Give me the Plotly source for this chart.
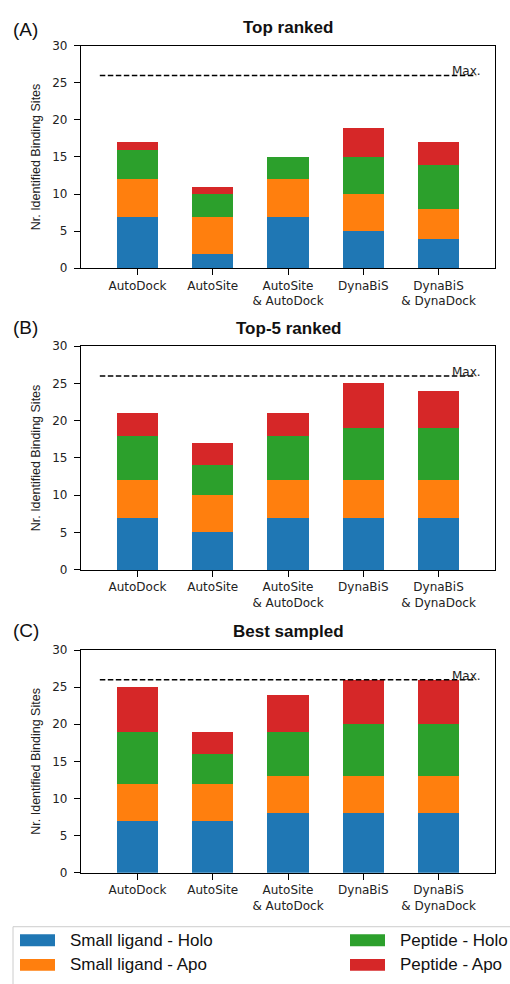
import plotly.graph_objects as go

# ---- data -------------------------------------------------------------
methods = ["AutoDock", "AutoSite", "AutoSite<br>& AutoDock", "DynaBiS", "DynaBiS<br>& DynaDock"]
series_names = ["Small ligand - Holo", "Small ligand - Apo", "Peptide - Holo", "Peptide - Apo"]
series_colors = ["#1f77b4", "#ff7f0e", "#2ca02c", "#d62728"]

panel_tags = ["(A)", "(B)", "(C)"]
panel_titles = ["Top ranked", "Top-5 ranked", "Best sampled"]

# counts per panel, one list per series (stack order bottom -> top)
top_ranked = [
    [7, 2, 7, 5, 4],   # Small ligand - Holo
    [5, 5, 5, 5, 4],   # Small ligand - Apo
    [4, 3, 3, 5, 6],   # Peptide - Holo
    [1, 1, 0, 4, 3],   # Peptide - Apo
]
top5_ranked = [
    [7, 5, 7, 7, 7],
    [5, 5, 5, 5, 5],
    [6, 4, 6, 7, 7],
    [3, 3, 3, 6, 5],
]
best_sampled = [
    [7, 7, 8, 8, 8],
    [5, 5, 5, 5, 5],
    [7, 4, 6, 7, 7],
    [6, 3, 5, 6, 6],
]
panels = [top_ranked, top5_ranked, best_sampled]

max_sites = 26
y_ticks = [0, 5, 10, 15, 20, 25, 30]

# ---- layout geometry (pixels) ----------------------------------------
W, H = 510, 984
plot_left, plot_right = 81, 495
panel_px = [(39.3, 265.0), (344.0, 571.0), (652.3, 878.3)]   # (top, bottom)
tag_y = [23, 325, 633]
title_y = [21, 326, 634]

def px_x(p):
    return p / W

def px_y(p):
    return 1 - p / H

fig = go.Figure()
xpos = list(range(len(methods)))

for i, data in enumerate(panels):
    ax = "" if i == 0 else str(i + 1)
    for name, color, vals in zip(series_names, series_colors, data):
        fig.add_trace(go.Bar(
            x=xpos, y=vals, name=name,
            marker=dict(color=color, line=dict(width=0)),
            width=0.55, showlegend=False,
            xaxis="x" + ax, yaxis="y" + ax,
        ))

    top, bot = panel_px[i]
    axis_common = dict(
        showline=True, linecolor="black", linewidth=1.3, mirror=True,
        ticks="outside", ticklen=6, tickwidth=1.2, tickcolor="black",
        showgrid=False, zeroline=False,
        tickfont=dict(family="DejaVu Sans", size=12, color="#222"),
    )
    fig.layout["xaxis" + ax] = dict(
        axis_common, domain=[px_x(plot_left), px_x(plot_right)],
        anchor="y" + ax, range=[-0.75, 4.75],
        tickvals=xpos, ticktext=methods,
    )
    fig.layout["yaxis" + ax] = dict(
        axis_common, domain=[px_y(bot), px_y(top)],
        anchor="x" + ax, range=[0, 30], tickvals=y_ticks,
        ticklabelstandoff=4,
        title=dict(text="Nr. Identified Binding Sites",
                   font=dict(family="Liberation Sans", size=12.5, color="#222"),
                   standoff=8),
    )

    # maximum attainable count
    fig.add_shape(type="line", xref="x" + ax, yref="y" + ax,
                  x0=-0.5, x1=4.5, y0=max_sites, y1=max_sites,
                  line=dict(color="black", width=1.5, dash="5.5px,2.5px"))
    fig.add_annotation(xref="x" + ax, yref="y" + ax, x=4.15, y=max_sites,
                       text="Max.", showarrow=False, xanchor="left", yanchor="bottom",
                       yshift=-5, font=dict(family="DejaVu Sans", size=12, color="#222"))

    # panel tag and title
    fig.add_annotation(xref="paper", yref="paper", x=px_x(25.5), y=px_y(tag_y[i]),
                       text=panel_tags[i], showarrow=False, xanchor="center", yanchor="middle",
                       font=dict(family="Liberation Sans", size=19, color="#111"))
    fig.add_annotation(xref="paper", yref="paper", x=px_x((plot_left + plot_right) / 2),
                       y=px_y(title_y[i]), text="<b>" + panel_titles[i] + "</b>",
                       showarrow=False, xanchor="center", yanchor="middle",
                       font=dict(family="Liberation Sans", size=17, color="#111"))

# ---- legend box drawn below the panels --------------------------------
fig.add_shape(type="rect", xref="paper", yref="paper",
              x0=px_x(13), x1=px_x(W + 10), y0=px_y(H + 10), y1=px_y(933),
              line=dict(color="#cccccc", width=1), fillcolor="white", layer="below")
legend_cells = [(0, 0), (0, 1), (1, 0), (1, 1)]  # (column, row) for each series
col_patch_x = [20, 350]
row_y = [946.7, 971.7]
for (col, row), name, color in zip(legend_cells, series_names, series_colors):
    px0 = col_patch_x[col]
    cy = row_y[row]
    fig.add_shape(type="rect", xref="paper", yref="paper",
                  x0=px_x(px0), x1=px_x(px0 + 35), y0=px_y(cy + 6), y1=px_y(cy - 6),
                  line=dict(width=0), fillcolor=color)
    fig.add_annotation(xref="paper", yref="paper", x=px_x(px0 + 48), y=px_y(cy),
                       text=name, showarrow=False, xanchor="left", yanchor="middle",
                       font=dict(family="Liberation Sans", size=17, color="#111"))

fig.update_layout(
    width=W, height=H,
    margin=dict(l=0, r=0, t=0, b=0),
    paper_bgcolor="white", plot_bgcolor="white",
    barmode="stack", bargap=0,
)

fig.write_html("out.html")
